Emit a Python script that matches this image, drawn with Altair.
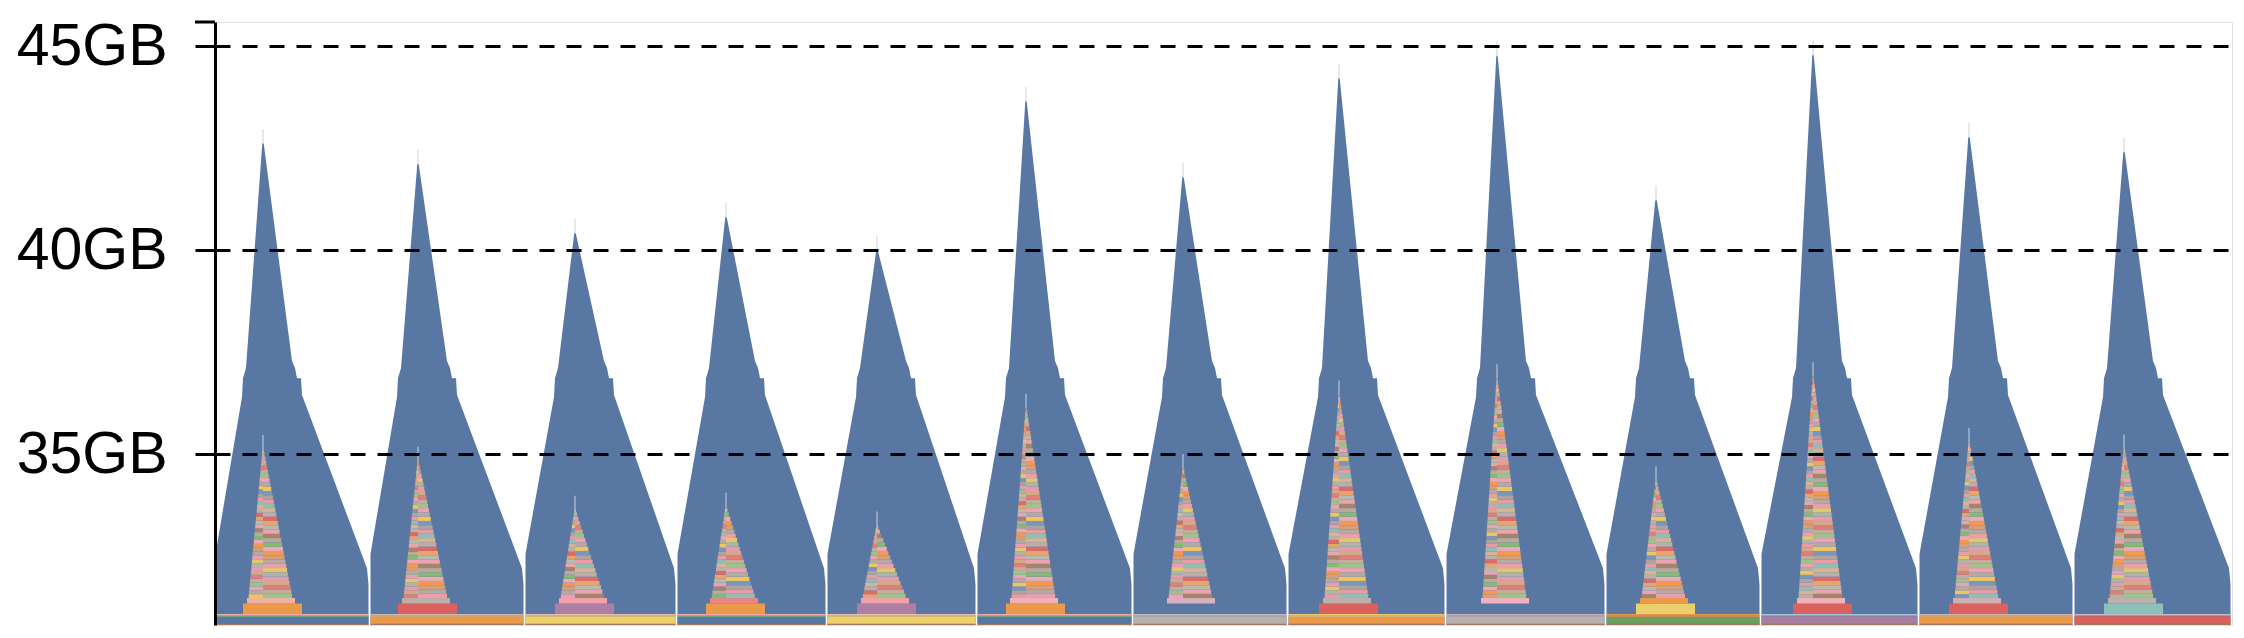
import altair as alt
import pandas as pd

# ---------------- values ----------------
Y_MIN, Y_MAX = 30.81, 45.59          # GB range of the y axis
T_MAX = 2017                          # time range (x)
y_ticks = [35, 40, 45]

cycle_start = [0, 155, 310, 462, 612, 762, 918, 1073, 1231, 1391, 1546, 1704, 1859]
cycle_end = [155, 310, 462, 612, 762, 918, 1073, 1231, 1391, 1546, 1704, 1859, 2017]
peak_at = [48, 48, 50, 49, 50, 49, 50, 51, 51, 50, 52, 50, 50]
peak_gb = [42.62, 42.11, 40.42, 40.81, 40.00, 43.65, 41.79, 44.21, 44.76, 41.23, 44.78, 42.77, 42.41]
apex_gb = [35.12, 34.83, 33.63, 33.70, 33.24, 36.13, 34.65, 36.45, 36.85, 34.35, 36.90, 35.29, 35.13]
spike_gb = 0.35                       # faint one-step spike above each peak / apex

# shape of the total-memory envelope around each peak
start_gb, end_gb, notch_gb = 32.55, 32.20, 31.80
rise_off = [-21, -20, -17]
rise_gb = [36.40, 36.86, 37.11]
fall_off = [29, 32, 34, 38, 39]
fall_gb = [37.28, 37.11, 36.86, 36.86, 36.45]

# persistent bands at the bottom of every cycle
band_gb = [30.81, 30.84, 31.01, 31.04, 31.08]
band_main = ["#5878a3", "#eb9a4a", "#ecd06c", "#5878a3", "#ecd06c", "#5878a3", "#bab0ab",
             "#eb9a4a", "#bab0ab", "#6ca05c", "#a87e9f", "#eb9a4a", "#d9625f"]
band_mid = ["#79b36a", "#f0b060", "#f2c76a", "#79b36a", "#f2c76a", "#79b36a", "#bab0ab",
            "#f2c76a", "#bab0ab", "#e8964a", "#a87e9f", "#f0b060", "#d9625f"]
band_top = ["#f2a7b3", "#c9b9b0", "#e7c0b0", "#f2a7b3", "#e7c0b0", "#f2a7b3", "#c8b7c8",
            "#f2c76a", "#c9a8c0", "#e8964a", "#a0c8d8", "#cdb0b0", "#c8b8c0"]
band_edge = "#a0785e"

# block under each activation triangle
block_gb = [31.08, 31.34, 31.47]
block_off = [-20, 39]
block_top_off = [-16, 32]
block_main = ["#eb9a4a", "#d9625f", "#ad7fa3", "#eb9a4a", "#ad7fa3", "#eb9a4a", "#5878a3",
              "#d9625f", "#5878a3", "#ecd06c", "#d9625f", "#d9625f", "#8cc0b8"]
block_top = ["#f0b2a0", "#bcaea8", "#f2a0aa", "#e8848a", "#f2a0aa", "#f2b0b8", "#d8b0c0",
             "#bcaea8", "#f0b0c0", "#eb9a4a", "#f2b0b8", "#cdb0b0", "#bab0ac"]

# activation triangle
tri_base_gb = 31.47
tri_left, tri_right = 14, 29
stripe_left_h, stripe_right_h = 0.095, 0.105
stripe_colors = ["#eec55e", "#b3a9a5", "#eea3b2", "#9cc488", "#c4ad9c", "#df7f7c", "#d4aa86",
                 "#e99bab", "#aeb5a6", "#e2c76f", "#eb9eae", "#b4aaa5", "#d79e79", "#ef9a50",
                 "#eea9b6", "#82bb72", "#bba99f", "#a4856c", "#eca3b1", "#b6bbad", "#e5a56c",
                 "#dd6a69", "#bcafa8", "#d6b595", "#92bcb6", "#e99ca6", "#aea39e", "#7896be"]
spike_color = "#c9d3e2"
area_color = "#5878a3"

# ---------------- build tables ----------------
env_rows = []
rect_rows = []
for c in range(len(cycle_start)):
    s, e, pk = cycle_start[c], cycle_end[c], cycle_start[c] + peak_at[c]
    pts = [(s + 0.5, start_gb)]
    pts += [(pk + o, g) for o, g in zip(rise_off, rise_gb)]
    pts += [(pk - 0.7, peak_gb[c]), (pk + 0.7, peak_gb[c])]
    pts += [(pk + o, g) for o, g in zip(fall_off, fall_gb)]
    pts += [(e - 3, end_gb), (e - 1.5, notch_gb)]
    for t, g in pts:
        env_rows.append({"cycle": f"c{c}", "t": t, "gb": g, "base": Y_MIN})

    # faint spike above the peak
    rect_rows.append({"t0": pk - 0.5, "t1": pk + 0.5, "g0": peak_gb[c] - 0.02,
                      "g1": peak_gb[c] + spike_gb, "color": spike_color})

    # bottom bands
    colors = [band_edge, band_main[c], band_mid[c], band_top[c]]
    for k in range(4):
        rect_rows.append({"t0": s + 0.5, "t1": e - 1.5, "g0": band_gb[k], "g1": band_gb[k + 1],
                          "color": colors[k]})
    # block
    rect_rows.append({"t0": pk + block_off[0], "t1": pk + block_off[1], "g0": block_gb[0],
                      "g1": block_gb[1], "color": block_main[c]})
    rect_rows.append({"t0": pk + block_top_off[0], "t1": pk + block_top_off[1], "g0": block_gb[1],
                      "g1": block_gb[2], "color": block_top[c]})
    # triangle stripes
    A, B = apex_gb[c], tri_base_gb
    nC = len(stripe_colors)
    for side, h, off in (("L", stripe_left_h, 5 * c), ("R", stripe_right_h, 7 * c + 3)):
        g0 = B
        i = 0
        while g0 < A - 0.02:
            g1 = min(g0 + h, A)
            frac = (A - (g0 + g1) / 2) / (A - B)
            if side == "L":
                t0, t1 = pk - tri_left * frac - 0.5, pk
            else:
                t0, t1 = pk, pk + tri_right * frac + 0.5
            rect_rows.append({"t0": t0, "t1": t1, "g0": g0, "g1": g1,
                              "color": stripe_colors[(i + off) % nC]})
            g0 = g1
            i += 1
    rect_rows.append({"t0": pk - 0.5, "t1": pk + 0.5, "g0": A, "g1": A + spike_gb,
                      "color": spike_color})

env = pd.DataFrame(env_rows)
rects = pd.DataFrame(rect_rows)

x_scale = alt.Scale(domain=[0, T_MAX], nice=False, zero=False)
y_scale = alt.Scale(domain=[Y_MIN, Y_MAX], nice=False, zero=False)

y_axis = alt.Axis(values=y_ticks, labelExpr="datum.value + 'GB'", title=None,
                  labelFont="Liberation Sans", labelFontSize=59, labelColor="black",
                  labelPadding=28, tickSize=20, tickColor="black", tickWidth=3,
                  domainColor="black", domainWidth=3, grid=True, gridColor="black",
                  gridDash=[15, 12], gridWidth=3, zindex=1)

area = alt.Chart(env).mark_area(color=area_color, interpolate="linear", opacity=1).encode(
    x=alt.X("t:Q", scale=x_scale, axis=None),
    y=alt.Y("gb:Q", scale=y_scale, axis=y_axis, stack=None),
    y2=alt.Y2("base:Q"),
    detail=alt.Detail("cycle:N"),
)

bars = alt.Chart(rects).mark_rect().encode(
    x=alt.X("t0:Q", scale=x_scale, axis=None),
    x2="t1:Q",
    y=alt.Y("g0:Q", scale=y_scale),
    y2="g1:Q",
    color=alt.Color("color:N", scale=None),
)

outer_tick = alt.Chart(pd.DataFrame({"a": [0]})).mark_rule(
    color="black", strokeWidth=3, clip=False).encode(
    x=alt.value(-20), x2=alt.value(0), y=alt.value(0))

chart = alt.layer(area, bars, outer_tick).properties(
    width=2017, height=603,
    padding={"left": 8, "top": 9, "right": 4, "bottom": 5},
).configure_view(stroke=None).configure(background="white")

chart.save("out.html", embed_options={"renderer": "svg", "actions": False})
